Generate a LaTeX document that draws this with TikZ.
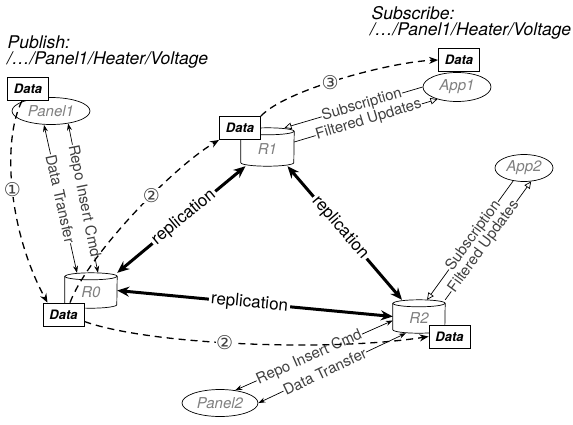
\documentclass[tikz,border=0pt]{standalone}
\usepackage{fontspec}
\setmainfont{TeX Gyre Heros}
\newfontfamily\numfont{DejaVu Sans}
\usetikzlibrary{arrows.meta,shapes.geometric,calc}
\newcommand\drawcyl[2]{%
  \draw[line width=0.7pt,fill=white] ([yshift=-3.5pt]#1.north west) -- ([yshift=3.5pt]#1.south west)
    arc[start angle=180,end angle=360,x radius=#2,y radius=3.5pt]
    -- ([yshift=-3.5pt]#1.north east)
    arc[start angle=0,end angle=180,x radius=#2,y radius=3.5pt] -- cycle;
  \draw[line width=0.7pt] ([yshift=-3.5pt]#1.north west)
    arc[start angle=180,end angle=360,x radius=#2,y radius=3.5pt];}
\begin{document}
\begin{tikzpicture}[x=1pt,y=-1pt,
  every node/.style={inner sep=0pt},
  ell/.style={ellipse,draw,line width=0.7pt,fill=white,font=\fontsize{15}{15}\selectfont\itshape,text=black!50},
  cylbox/.style={minimum width=#1},
  cyltext/.style={font=\fontsize{15}{15}\selectfont\itshape,text=black!50},
  databox/.style={draw,line width=0.8pt,fill=white,minimum width=41pt,minimum height=23pt,font=\fontsize{13}{13}\selectfont\bfseries\itshape},
  title/.style={anchor=base west,font=\fontsize{17.5}{17.5}\selectfont\itshape},
  dashedarr/.style={line width=1.3pt,dash pattern=on 7pt off 5pt,-{Stealth[length=9pt,width=7pt]}},
  thinarr/.style={line width=0.7pt,{Stealth[length=7pt,width=5pt]}-{Stealth[length=7pt,width=5pt]}},
  openarr/.style={line width=0.7pt,-{Triangle[open,length=7pt,width=6.5pt]}},
  reparr/.style={line width=3pt,{Stealth[length=12pt,width=10pt]}-{Stealth[length=12pt,width=10pt]}},
  lbl/.style={fill=white,sloped,font=\fontsize{15}{15}\selectfont,text=black!75,inner sep=0.6pt},
  replbl/.style={fill=white,sloped,font=\fontsize{17}{17}\selectfont,inner sep=2pt},
  num/.style={fill=white,font=\numfont\fontsize{19}{19}\selectfont,text=black!75,inner sep=0.5pt}
]
\useasboundingbox (0,0) rectangle (573,424);

% titles
\node[title] (pub1) at (7.5,48) {Publish:};
\node[title] (pub2) at (7,64) {/…/Panel1/Heater/Voltage};
\node[title] (sub1) at (371.5,19) {Subscribe:};
\node[title] (sub2) at (370,35.5) {/…/Panel1/Heater/Voltage};

% ellipses
\node[ell,minimum width=78pt,minimum height=27pt] (P1) at (51,111) {Panel1};
\node[ell,minimum width=68pt,minimum height=29pt] (A1) at (457,87) {App1};
\node[ell,minimum width=58pt,minimum height=27pt] (A2) at (524,168) {App2};
\node[ell,minimum width=76pt,minimum height=27pt] (P2) at (220,403) {Panel2};

% cylinders
\node[cylbox=53pt,minimum height=38pt] (R1) at (267.5,147) {};
\drawcyl{R1}{26.5pt}
\node[cyltext] (R1t) at ([yshift=-2pt]R1.center) {R1};
\node[cylbox=52pt,minimum height=35pt] (R0) at (91,290.5) {};
\drawcyl{R0}{26pt}
\node[cyltext] (R0t) at ([yshift=-2pt]R0.center) {R0};
\node[cylbox=52pt,minimum height=33pt] (R2) at (419,316.5) {};
\drawcyl{R2}{26pt}
\node[cyltext] (R2t) at ([yshift=-2pt]R2.center) {R2};

% data boxes
\node[databox] (D1) at (28,89) {Data};
\node[databox] (DA1) at (459,60) {Data};
\node[databox] (DR1) at (240,128) {Data};
\node[databox] (DR0) at (63.5,314.5) {Data};
\node[databox] (DR2) at (449.5,336.5) {Data};

% replication
\draw[reparr] (R0.north east) -- ([xshift=-22pt]R1.south) node[replbl,pos=0.52] {replication};
\draw[reparr] ([xshift=20pt]R1.south) -- ([xshift=-17pt]R2.north) node[replbl,pos=0.46] {replication};
\draw[reparr] (R0.east) -- (R2.west) node[replbl,pos=0.48] {replication};

% thin connectors
\draw[thinarr] ([xshift=-7pt]P1.south) -- ([xshift=-14pt]R0.north) node[lbl,pos=0.5] {Data Transfer};
\draw[thinarr] (P1.-36) -- ([xshift=7pt]R0.north) node[lbl,pos=0.52] {Repo Insert Cmd};
\draw[thinarr] (P2.40) -- ([yshift=-4pt]R2.west) node[lbl,pos=0.47] {Repo Insert Cmd};
\draw[thinarr] (P2.0) -- ([xshift=-13pt]R2.south) node[lbl,pos=0.45] {Data Transfer};
\draw[openarr] (A2.-130) -- ([xshift=8pt]R2.north) node[lbl,pos=0.46] {Subscription};
\draw[openarr] (R2.north east) -- (A2.-62) node[lbl,pos=0.45] {Filtered Updates};
\draw[openarr] (A1.west) -- ([xshift=17pt]R1.north) node[lbl,pos=0.44] {Subscription};
\draw[openarr] ([yshift=5pt]R1.east) -- (A1.212) node[lbl,pos=0.52] {Filtered Updates};

% dashed data flows
\draw[dashedarr] ([xshift=-6pt]D1.south) .. controls (2,140) and (8,230) .. ([xshift=-16pt]DR0.north) node[num,pos=0.5] {①};
\draw[dashedarr] ([xshift=6.5pt]DR0.north) .. controls (88,255) and (172,168) .. (DR1.south west) node[num,pos=0.6] {②};
\draw[dashedarr] (DR1.north east) .. controls (285,90) and (390,62) .. (DA1.west) node[num,pos=0.45] {③};
\draw[dashedarr] ([yshift=-7pt]DR0.east) .. controls (150,345) and (330,352) .. (DR2.west) node[num,pos=0.45] {②};
\end{tikzpicture}
\end{document}
